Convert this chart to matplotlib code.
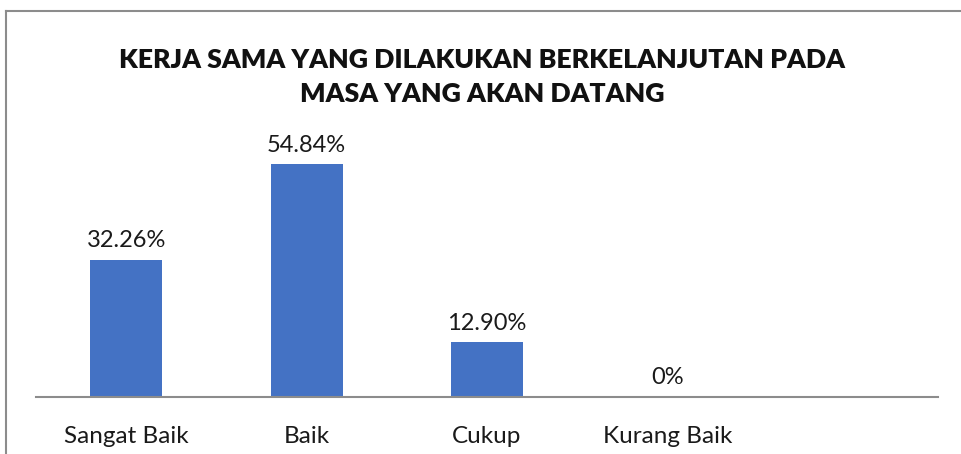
import matplotlib
matplotlib.use("Agg")
import matplotlib.pyplot as plt

categories = ["Sangat Baik", "Baik", "Cukup", "Kurang Baik"]
values = [32.26, 54.84, 12.90, 0.0]
labels = ["32.26%", "54.84%", "12.90%", "0%"]
title = "KERJA SAMA YANG DILAKUKAN BERKELANJUTAN PADA\nMASA YANG AKAN DATANG"

plt.rcParams['font.family'] = ['Lato', 'DejaVu Sans']

W, H = 962, 454
fig = plt.figure(figsize=(W / 100, H / 100), dpi=100)

# outer chart border (left and top visible)
fig.add_artist(plt.Line2D([6 / W, 6 / W], [0, 1 - 11 / H], color="#8c8c8c", lw=1.5))
fig.add_artist(plt.Line2D([6 / W, 1], [1 - 11 / H, 1 - 11 / H], color="#8c8c8c", lw=1.5))

left, right = 36, 938
bottom, top = 397, 397 - 60 * 4.245
ax = fig.add_axes([left / W, 1 - bottom / H, (right - left) / W, (bottom - top) / H])

x = list(range(len(categories)))
ax.bar(x, values, width=0.4, color="#4472C4")
ax.set_xlim(-0.5, 4.5)
ax.set_ylim(0, 60)
for xi, v, lab in zip(x, values, labels):
    ax.text(xi, v + 4.5, lab, ha="center", va="center", fontsize=17, color="#1a1a1a")

ax.set_xticks(x)
ax.set_xticklabels(categories, fontsize=17.5, color="#1a1a1a")
ax.tick_params(axis="x", length=0, pad=21)
ax.set_yticks([])
for s in ["top", "right", "left"]:
    ax.spines[s].set_visible(False)
ax.spines["bottom"].set_color("#8c8c8c")
ax.spines["bottom"].set_linewidth(1.5)

fig.text(482 / W, 1 - 77 / H, title, ha="center", va="center", fontsize=19.2,
         fontweight="heavy", color="#111111", linespacing=1.55)

fig.savefig("out.png", dpi=100)
